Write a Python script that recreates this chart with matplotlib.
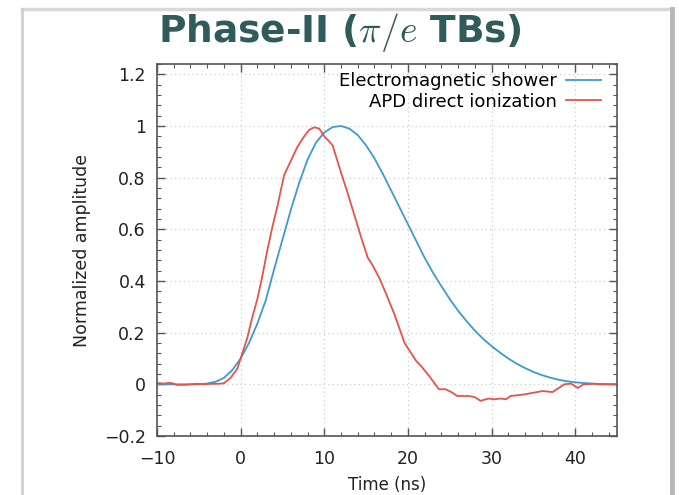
import matplotlib
matplotlib.use("Agg")
import matplotlib.pyplot as plt
from matplotlib.ticker import MultipleLocator, FixedLocator, FixedFormatter
from matplotlib.lines import Line2D

plt.rcParams['font.family'] = ['DejaVu Sans']
plt.rcParams['mathtext.fontset'] = 'cm'

title = r"Phase-II ($\pi/e$ TBs)"
x_label = "Time (ns)"
y_label = "Normalized amplitude"
series_names = ["Electromagnetic shower", "APD direct ionization"]

em_t = [-10, -9, -8, -7, -6, -5, -4, -3, -2, -1, 0, 1, 2, 3, 4, 5, 6, 7, 8, 9,
        10, 11, 12, 13, 14, 15, 16, 17, 18, 19, 20, 21, 22, 23, 24, 25, 26, 27,
        28, 29, 30, 31, 32, 33, 34, 35, 36, 37, 38, 39, 40, 41, 42, 43, 44, 45]
em_v = [0, 0, 0, 0, 0, 0, 0.003, 0.01, 0.025, 0.055, 0.10, 0.16, 0.235, 0.325,
        0.445, 0.56, 0.675, 0.78, 0.87, 0.935, 0.975, 0.996, 1.0, 0.99, 0.965,
        0.925, 0.875, 0.815, 0.75, 0.685, 0.62, 0.555, 0.49, 0.432, 0.38, 0.33,
        0.285, 0.245, 0.208, 0.176, 0.148, 0.123, 0.10, 0.08, 0.063, 0.048,
        0.036, 0.026, 0.018, 0.012, 0.008, 0.005, 0.003, 0.0015, 0.0005, 0]

apd_t = [-10, -9.2, -8.4, -7.6, -6.8, -6.0, -5.2, -4.4, -3.6, -2.8, -2.0, -1.2,
         -0.4, 0.2, 0.8, 1.4, 2.0, 2.6, 3.2, 3.8, 4.4, 5.2, 6.0, 6.8, 7.6, 8.2,
         8.8, 9.4, 10.0, 10.6, 11.0, 12.0, 12.8, 13.6, 14.4, 15.2, 15.8, 16.6,
         17.4, 18.4, 19.6, 20.4, 21.0, 21.6, 22.6, 23.7, 24.5, 25.2, 25.9, 27.3,
         28.0, 28.7, 29.3, 29.7, 30.3, 31.1, 31.7, 32.3, 33.2, 34.1, 35.1, 36.1,
         37.3, 37.9, 38.7, 39.5, 40.3, 41.0, 42.1, 43.0, 44.0, 45.0]
apd_v = [0.005, 0.003, 0.006, -0.002, -0.002, 0.0, 0.002, 0.0, 0.002, 0.002,
         0.004, 0.025, 0.06, 0.12, 0.18, 0.26, 0.33, 0.42, 0.52, 0.61, 0.69,
         0.81, 0.865, 0.92, 0.96, 0.985, 0.995, 0.99, 0.96, 0.94, 0.925, 0.82,
         0.74, 0.655, 0.57, 0.49, 0.46, 0.41, 0.35, 0.27, 0.16, 0.12, 0.09,
         0.07, 0.03, -0.019, -0.019, -0.03, -0.045, -0.045, -0.05, -0.064,
         -0.058, -0.055, -0.058, -0.055, -0.058, -0.045, -0.042, -0.038, -0.032,
         -0.026, -0.03, -0.017, 0.0, 0.003, -0.014, 0.0, 0.002, 0.0, 0.0, 0.0]

x_ticks = [-10, 0, 10, 20, 30, 40]
x_tick_labels = ["\u221210", "0", "10", "20", "30", "40"]
y_ticks = [-0.2, 0, 0.2, 0.4, 0.6, 0.8, 1.0, 1.2]
y_tick_labels = ["\u22120.2", "0", "0.2", "0.4", "0.6", "0.8", "1", "1.2"]

blue = "#3d9ad1"
red = "#e5534b"
axis_col = "#555555"

fig = plt.figure(figsize=(6.79, 4.95), dpi=100)

# slide frame
fig.add_artist(Line2D([0.033, 0.99], [0.982, 0.982], color="#d8d8d8", lw=2.5,
                      transform=fig.transFigure))
fig.add_artist(Line2D([0.033, 0.033], [0.0, 0.982], color="#d0d0d0", lw=2.0,
                      transform=fig.transFigure))
fig.add_artist(Line2D([0.990, 0.990], [0.0, 0.982], color="#b8b8b8", lw=3.5,
                      transform=fig.transFigure))

fig.text(0.5, 0.935, title, ha="center", va="center", fontsize=27,
         fontweight="bold", color="#2f5b5b")

ax = fig.add_axes([0.2312, 0.1192, 0.9087 - 0.2312, 0.8707 - 0.1192])
ax.plot(em_t, em_v, color=blue, lw=1.3, label=series_names[0])
ax.plot(apd_t, apd_v, color=red, lw=1.3, label=series_names[1])

ax.set_xlim(-10, 45)
ax.set_ylim(-0.2, 1.24)
ax.xaxis.set_major_locator(FixedLocator(x_ticks))
ax.xaxis.set_major_formatter(FixedFormatter(x_tick_labels))
ax.yaxis.set_major_locator(FixedLocator(y_ticks))
ax.yaxis.set_major_formatter(FixedFormatter(y_tick_labels))
ax.xaxis.set_minor_locator(MultipleLocator(2))
ax.yaxis.set_minor_locator(MultipleLocator(0.04))
ax.tick_params(which="both", direction="in", top=True, right=True,
               color=axis_col, labelsize=12.5, labelcolor="#222222")
ax.tick_params(which="major", length=6, width=1.0)
ax.tick_params(which="minor", length=3, width=0.8)
ax.tick_params(axis="x", which="major", pad=10)
ax.tick_params(axis="y", which="major", pad=8)
for s in ax.spines.values():
    s.set_color(axis_col)
    s.set_linewidth(1.2)
ax.grid(True, which="major", linestyle=(0, (1, 2.5)), color="#cccccc", lw=0.9)

ax.set_xlabel(x_label, fontsize=12, color="#222222", labelpad=6)
ax.set_ylabel(y_label, fontsize=12.5, color="#222222", labelpad=9)

ax.legend(loc="upper right", bbox_to_anchor=(1 - 11 / 460, 0.9935),
          frameon=False, markerfirst=False, fontsize=13,
          handlelength=1.9, borderaxespad=0.0, labelspacing=0.15,
          handletextpad=0.5, borderpad=0.3)

fig.savefig("out.png", dpi=100)
